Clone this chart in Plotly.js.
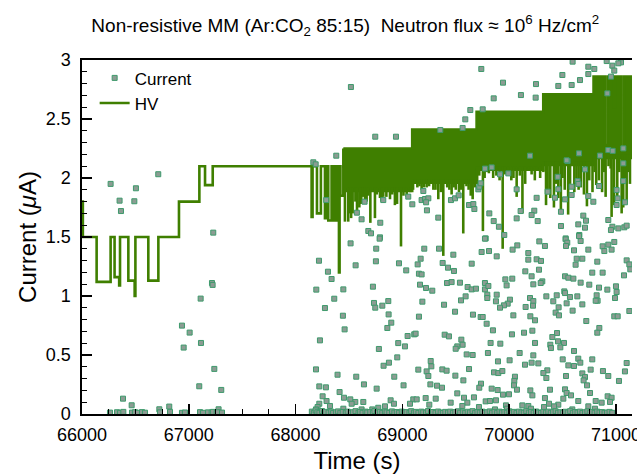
<!DOCTYPE html>
<html><head><meta charset="utf-8">
<script src="https://cdn.plot.ly/plotly-3.0.1.min.js"></script>
<style>html,body{margin:0;padding:0;background:#fff;}#chart{width:637px;height:476px;}</style>
</head><body><div id="chart"></div>
<script>
// ---- Current (uA) readings: [time (s), current (uA)] grouped by region ----
const currentEarly = [[66268,1.95],[66352,1.808],[66365,1.72],[66505,1.913],[66490,1.803],[66714,2.032],[67229,1.537],[67217,1.11],[67223,1.094],[67111,0.978],[66936,0.749],[67008,0.690],[67114,0.602],[66952,0.563],[67239,0.382],[67098,0.235],[67304,0.204],[66384,0.130],[66465,0.074],[66724,0.040],[66817,0.063],[67279,0.040],
[66262,0.012],[66328,0.015],[66356,0.010],[66387,0.018],[66468,0.012],[66496,0.015],[66524,0.010],[66562,0.016],[66590,0.011],[66730,0.014],[66824,0.018],[66936,0.010],[66964,0.013],[67105,0.016],[67133,0.010],[67180,0.014],[67214,0.012],[67227,0.018],[67261,0.010],[67273,0.015],[67311,0.012]];
const currentHighA = [[68518,2.771],[68746,2.350],[68940,2.350],[68381,2.189],[68166,2.133],[68188,2.116],[68287,1.813],[68646,1.799],[68821,1.813],[69055,1.842],[69093,1.777],[68574,1.706],[68618,1.650],[68793,1.621],[68681,1.551],[68706,1.531],[68790,1.497]];
const currentHighB = [[69739,2.924],[69942,2.808],[69855,2.675],[70110,2.703],[69636,2.576],[69752,2.582],[69589,2.497],[69564,2.424],[69355,2.407],[69196,1.890],[69180,1.813],[69212,1.822],[69243,1.828],[69222,1.794],[69230,1.726],[69336,1.664],[69455,1.813],[69493,1.828],[69527,1.853],[69624,1.771],[69664,1.779],[69674,1.737],[69711,1.904],[69720,1.926],[69733,1.955],[69814,1.700],[69855,1.635],[69904,1.587],[69780,1.488],[69954,1.517],[70070,1.904],[70107,1.720],[70070,1.658],[69992,2.039],[69914,2.031],[69774,2.08],[69836,2.09]];
const currentHighC = [[70594,2.986],[70741,2.943],[70797,2.924],[70913,2.991],[70966,2.952],[71047,2.980],[71022,2.972],[70741,2.881],[70984,2.910],[70953,2.859],[70498,2.873],[70251,2.796],[70460,2.780],[70585,2.788],[70663,2.830],[70248,2.681],[70919,2.717],[70195,2.189],[70547,2.144],[70654,2.209],[70710,2.073],[70928,2.237],[71069,2.124],[71069,2.251],[70257,1.832],[70460,1.905],[70360,1.884],[70429,1.833],[70585,1.926],[70641,1.974],[70585,1.856],[70741,1.847],[70841,1.932],[70788,1.799],[71006,1.898],[71069,1.974],[71016,1.827],[71084,1.794],[71006,1.771],[70523,1.819],[70235,1.723],[70210,1.686],[70267,1.635],[70485,1.714],[70485,1.593],[70694,1.681],[70719,1.638],[70647,1.607],[70710,1.579],[70657,1.517],[70529,1.488],[70928,1.644],[70966,1.587],[70953,1.559],[71022,1.573],[71078,1.582],[71100,1.596],[70648,1.95],[70454,2.01],[70538,2.15],[70850,2.19],[70969,2.23]];
const currentLowA = [[68515,1.446],[68787,1.486],[68755,1.401],[68219,1.299],[68562,1.260],[68752,1.294],[68968,1.277],[68303,1.206],[68337,1.144],[69036,1.217],[68194,1.054],[68447,1.056],[68724,1.079],[68362,0.977],[68734,0.941],[68746,0.901],[68812,0.918],[68868,0.957],[68275,0.898],[68443,0.833],[68871,0.844],[68896,0.774],[68859,0.729],[68459,0.717],[68228,0.624],[69049,0.661],[69111,0.675],[68961,0.601],[69024,0.573],[68780,0.551],[68952,0.480],[68874,0.435],[68824,0.409],[68191,0.378],[68393,0.333],[68568,0.316],[68924,0.316],[68640,0.251],[68759,0.215],[69011,0.243],[68222,0.234],[68284,0.226],[68412,0.186],[68253,0.150],[68453,0.138],[68290,0.110],[68512,0.124],[68559,0.102],[68634,0.102],[68322,0.068],[68525,0.087],[68222,0.087],[68890,0.116],[68921,0.087],[69102,0.124],[69071,0.087],[68837,0.065],[68774,0.053],[68718,0.039],[68618,0.039],[68447,0.045],[68206,0.059],[68191,0.039]];
const currentLowB = [[69205,1.401],[69343,1.401],[69773,1.486],[70076,1.429],[70032,1.393],[69811,1.381],[69742,1.373],[69883,1.336],[69477,1.350],[69171,1.316],[69143,1.268],[69377,1.280],[69427,1.240],[69483,1.212],[69649,1.274],[69155,1.189],[69180,1.183],[70151,1.209],[69165,1.096],[69221,1.068],[69280,1.045],[69418,1.110],[69461,1.118],[69539,1.113],[69611,1.076],[69649,1.056],[69689,1.062],[69773,1.110],[69773,1.056],[69805,1.085],[69795,1.011],[69795,0.983],[69883,1.011],[69876,0.955],[69964,1.141],[70029,1.147],[69976,1.090],[70007,0.969],[69986,0.935],[69951,0.921],[69914,0.901],[69592,0.997],[69549,0.963],[69187,0.952],[69390,0.926],[69493,0.867],[70154,0.907],[69155,0.825],[69661,0.842],[69733,0.822],[69752,0.822],[69789,0.765],[70039,0.836],[69848,0.709],[70026,0.675],[70139,0.689],[69124,0.681],[69396,0.672],[69436,0.658],[69552,0.630],[69564,0.587],[69514,0.573],[69499,0.553],[69826,0.602],[69917,0.596],[69602,0.505],[69658,0.500],[69801,0.517],[70098,0.517],[69265,0.449],[69271,0.404],[69895,0.446],[70004,0.455],[70148,0.418],[69149,0.376],[69227,0.361],[69374,0.378],[69414,0.367],[69624,0.381],[69858,0.353],[69898,0.347],[69936,0.364],[69496,0.325],[69243,0.322],[69571,0.285],[70054,0.316],[70048,0.280],[69262,0.251],[69324,0.240],[69371,0.223],[69736,0.257],[69720,0.223],[69836,0.215],[69892,0.203],[70045,0.243],[70073,0.206],[69514,0.175],[69942,0.164],[69998,0.167],[69218,0.135],[69312,0.130],[69577,0.138],[69670,0.141],[69452,0.096],[69608,0.096],[69780,0.107],[69820,0.110],[69876,0.116],[69252,0.079],[69134,0.124],[69970,0.073],[70123,0.073],[69561,0.068],[69717,0.059],[69867,0.039],[69980,0.045]];
const currentLowC = [[70282,1.463],[70335,1.424],[70529,1.480],[70544,1.452],[70532,1.424],[70669,1.466],[70654,1.508],[70607,1.387],[70741,1.393],[70875,1.421],[70928,1.435],[70984,1.458],[70891,1.381],[70959,1.393],[70179,1.364],[70179,1.308],[70257,1.311],[70298,1.297],[70632,1.316],[70685,1.316],[70622,1.265],[70825,1.291],[71100,1.302],[71125,1.268],[71134,1.226],[70279,1.223],[70778,1.198],[70875,1.198],[71075,1.175],[70210,1.167],[70310,1.124],[70295,1.110],[70226,1.099],[70523,1.167],[70554,1.155],[70601,1.147],[70669,1.113],[70750,1.096],[70841,1.071],[70919,1.054],[71000,1.082],[71006,1.034],[70991,0.983],[70516,1.039],[70523,1.025],[70348,0.997],[70445,1.006],[70569,0.991],[70638,0.997],[70819,1.006],[70828,0.960],[70810,0.960],[70195,0.983],[70226,0.957],[70413,0.955],[70223,0.918],[70538,0.938],[70685,0.929],[70463,0.904],[70435,0.859],[70466,0.836],[70594,0.876],[70198,0.828],[70242,0.794],[70722,0.788],[70984,0.828],[71016,0.828],[71125,0.873],[70844,0.729],[70825,0.689],[70217,0.706],[70448,0.686],[70404,0.652],[70457,0.616],[70513,0.602],[70242,0.602],[70385,0.587],[70479,0.565],[70391,0.559],[70607,0.534],[70226,0.497],[70501,0.463],[70647,0.469],[70778,0.463],[70210,0.435],[70273,0.429],[70666,0.435],[70554,0.412],[70607,0.407],[71100,0.432],[70763,0.376],[70878,0.364],[71084,0.361],[70357,0.370],[70320,0.347],[70348,0.305],[70532,0.322],[70685,0.344],[70710,0.313],[70697,0.285],[70928,0.322],[71028,0.280],[70729,0.243],[70198,0.200],[70382,0.206],[70523,0.209],[70538,0.178],[70579,0.158],[70757,0.178],[70217,0.158],[70335,0.135],[70373,0.087],[70507,0.130],[70647,0.110],[70810,0.110],[70866,0.096],[70922,0.150],[70959,0.138],[70944,0.102],[70460,0.079],[70420,0.065],[70326,0.059],[70179,0.068],[70204,0.045],[70591,0.039],[70803,0.045],[70741,0.065]];
const currentBaseline = [[68152,0.02],[68171,0.01],[68188,0.03],[68204,0.015],[68223,0.01],[68247,0.025],[68266,0.01],[68281,0.018],[68309,0.012],[68333,0.02],[68351,0.008],[68378,0.015],[68397,0.022],[68419,0.01],[68441,0.017],[68470,0.012],[68488,0.02],[68516,0.009],[68537,0.015],[68561,0.024],[68589,0.011],[68604,0.018],[68627,0.01],[68655,0.02],[68671,0.013],[68699,0.016],[68724,0.01],[68739,0.025],[68763,0.012],[68790,0.018],[68812,0.01],[68836,0.02],[68852,0.014],[68877,0.009],[68903,0.022],[68925,0.012],[68948,0.017],[68969,0.01],[68994,0.02],[69013,0.013],[69039,0.016],[69066,0.01],[69082,0.024],[69109,0.012],[69126,0.018],[69150,0.009],[69177,0.02],[69195,0.014],[69221,0.011],[69240,0.025],[69268,0.012],[69287,0.017],[69310,0.01],[69334,0.021],[69358,0.013],[69379,0.009],[69402,0.018],[69427,0.012],[69448,0.02],[69473,0.01],[69495,0.016],[69520,0.023],[69541,0.011],[69566,0.015],[69588,0.01],[69612,0.019],[69633,0.013],[69657,0.024],[69681,0.01],[69703,0.017],[69725,0.012],[69749,0.02],[69772,0.009],[69794,0.015],[69818,0.022],[69840,0.011],[69863,0.018],[69887,0.01],[69909,0.02],[69931,0.013],[69955,0.016],[69978,0.01],[70001,0.023],[70024,0.012],[70046,0.018],[70069,0.009],[70092,0.02],[70115,0.014],[70137,0.011],[70160,0.024],[70184,0.012],[70205,0.017],[70229,0.01],[70252,0.021],[70274,0.013],[70297,0.009],[70320,0.018],[70344,0.012],[70366,0.02],[70389,0.01],[70411,0.016],[70435,0.023],[70457,0.011],[70480,0.015],[70503,0.01],[70527,0.019],[70549,0.013],[70571,0.024],[70596,0.01],[70618,0.017],[70640,0.012],[70663,0.02],[70686,0.009],[70710,0.015],[70732,0.022],[70755,0.011],[70777,0.018],[70800,0.01],[70824,0.02],[70846,0.013],[70869,0.016],[70893,0.01],[70916,0.012],[70940,0.018],[70965,0.01]];

// ---- HV (drawn on the same visual scale, right-hand axis ticks) ----
const hvStepTime  = [66000,66008,66137,66268,66305,66348,66356,66434,66493,66500,66621,66715,66908,67099,67152,67224,68150,68159,68200,68237,68275,68294,68306,68337,68345,68362,68370,68384,68400,68406,68412,68420,68447];
const hvStepValue = [1.80, 1.50, 1.12, 1.50, 1.16, 1.09, 1.50, 1.13, 1.00, 1.50, 1.13, 1.50, 1.80, 2.10, 1.94, 2.10, 1.67, 2.10, 1.70, 2.10, 1.66, 2.10, 1.64, 2.10, 1.64, 2.10, 1.64, 2.10, 1.75, 1.20, 2.10, 1.85, 2.25];
// fast-oscillating part: envelope per setting
const hvBandEdge   = [68447, 69092, 69695, 70319, 70790, 71150];
const hvBandTop    = [2.25, 2.41, 2.56, 2.71, 2.86];
const hvBandBottom = [1.89, 1.96, 2.07, 2.11, 2.17];
const hvGaps = [[70897,70922,2.28],[70980,70996,2.60],[71053,71078,2.25]];
const hvSpikes = [[68462,1.63],[68493,1.63],[68509,1.70],[68520,1.66],[68534,1.70],[68560,1.80],[68575,1.72],[68597,1.75],[68615,1.78],[68630,1.84],[68650,1.82],[68665,1.80],[68680,1.85],[68700,1.62],[68743,1.66],[68760,1.86],[68790,1.83],[68805,1.80],[68821,1.84],[68850,1.84],[68884,1.82],[68905,1.86],[68930,1.77],[68950,1.78],[68987,1.42],[69010,1.85],[69040,1.84],[69075,1.88],[69100,1.90],[69118,1.95],[69140,1.92],[69160,1.93],[69180,1.90],[69200,1.92],[69227,1.92],[69250,1.93],[69290,1.90],[69310,1.90],[69336,1.82],[69360,1.88],[69383,1.34],[69420,1.92],[69440,1.90],[69461,1.86],[69480,1.92],[69500,1.90],[69530,1.88],[69550,1.90],[69570,1.53],[69600,1.93],[69620,1.90],[69640,1.85],[69658,1.82],[69680,1.92],[69700,1.95],[69720,2.02],[69754,1.55],[69770,2.00],[69789,2.05],[69810,2.04],[69850,2.00],[69880,2.02],[69910,1.98],[69939,1.40],[69960,2.03],[69990,2.05],[70020,1.98],[70040,2.00],[70070,1.84],[70100,2.02],[70124,1.70],[70150,1.95],[70180,2.07],[70210,2.03],[70240,1.98],[70257,2.06],[70290,2.00],[70320,2.05],[70345,1.77],[70360,1.90],[70385,1.83],[70419,1.75],[70440,1.95],[70460,1.83],[70484,1.70],[70500,2.00],[70520,1.90],[70552,1.69],[70570,1.95],[70610,1.88],[70630,2.00],[70650,1.90],[70670,1.92],[70700,1.86],[70728,1.76],[70750,1.98],[70780,1.88],[70800,2.05],[70815,1.94],[70840,1.98],[70870,1.88],[70890,2.05],[70903,1.84],[70930,2.10],[70950,2.08],[70959,1.67],[70982,1.77],[71012,1.81],[71030,2.05],[71053,1.70],[71068,1.75],[71085,2.00],[71100,1.80],[71115,2.05],[71131,1.95]];

const GREEN = '#3f7f00';
const FONT = 'Liberation Sans, Arial, Helvetica, sans-serif';

const allCurrent = [].concat(currentEarly, currentHighA, currentHighB, currentHighC, currentLowA, currentLowB, currentLowC, currentBaseline);

function bandIndex(t){ for(let i=0;i<hvBandTop.length;i++){ if(t>=hvBandEdge[i] && t<hvBandEdge[i+1]) return i; } return hvBandTop.length-1; }
let upper = [];
for(let i=0;i<hvBandTop.length;i++) upper.push([hvBandEdge[i], hvBandTop[i]]);
hvGaps.forEach(g => { upper.push([g[0], g[2]]); upper.push([g[1], hvBandTop[bandIndex(g[1])]]); });
upper.sort((a,b)=>a[0]-b[0]);
upper.push([hvBandEdge[hvBandEdge.length-1], hvBandTop[hvBandTop.length-1]]);
let lower = [];
for(let i=0;i<hvBandBottom.length;i++) lower.push([hvBandEdge[i], hvBandBottom[i]]);
lower.push([hvBandEdge[hvBandEdge.length-1], hvBandBottom[hvBandBottom.length-1]]);

let spX=[], spY=[];
hvSpikes.forEach(s => { spX.push(s[0], s[0], null); spY.push(hvBandBottom[bandIndex(s[0])]+0.03, s[1], null); });

const traces = [
  {x: hvStepTime, y: hvStepValue, type:'scatter', mode:'lines', name:'HV', line:{color:GREEN, width:2.6, shape:'hv'}, legendrank:2},
  {x: upper.map(p=>p[0]), y: upper.map(p=>p[1]), type:'scatter', mode:'lines', line:{color:GREEN, width:2.6, shape:'hv'}, showlegend:false, hoverinfo:'skip'},
  {x: lower.map(p=>p[0]), y: lower.map(p=>p[1]), type:'scatter', mode:'lines', line:{color:GREEN, width:2.6, shape:'hv'}, fill:'tonexty', fillcolor:GREEN, showlegend:false, hoverinfo:'skip'},
  {x: spX, y: spY, type:'scatter', mode:'lines', line:{color:GREEN, width:2.6}, showlegend:false, hoverinfo:'skip', connectgaps:false},
  {x: allCurrent.map(p=>p[0]), y: allCurrent.map(p=>p[1]), type:'scatter', mode:'markers', name:'Current',
   marker:{symbol:'square', size:5, color:'#8c9c93', line:{color:'#3e9a6c', width:1}}, legendrank:1}
];

const axisCommon = {showline:true, linecolor:'#000', linewidth:1.6, ticks:'inside', tickcolor:'#000', tickwidth:1.4, ticklen:10, showgrid:false, zeroline:false,
  tickfont:{family:FONT, size:18, color:'#000'}, ticklabeloverflow:'allow'};

const layout = {
  width:637, height:476,
  margin:{l:82, r:5, t:60, b:62, pad:0},
  paper_bgcolor:'#fff', plot_bgcolor:'#fff',
  font:{family:FONT, color:'#000'},
  title:{text:'Non-resistive MM (Ar:CO<sub>2</sub> 85:15)\u00a0\u00a0Neutron flux \u2248 10<sup>6</sup> Hz/cm<sup>2</sup>',
    font:{family:FONT, size:19, color:'#000'}, x:0.542, xanchor:'center', y:0.947, yanchor:'middle'},
  xaxis: Object.assign({}, axisCommon, {range:[66000,71150], tick0:0, dtick:1000, tickformat:'d', mirror:true,
    minor:{dtick:250, ticks:'inside', ticklen:5, tickcolor:'#000', tickwidth:1}, ticklabelstandoff:4,
    title:{text:'Time (s)', font:{family:FONT, size:24, color:'#000'}, standoff:8}}),
  yaxis: Object.assign({}, axisCommon, {range:[0,3], tick0:0, dtick:0.5,
    minor:{dtick:0.1, ticks:'inside', ticklen:5, tickcolor:'#000', tickwidth:1}, ticklabelstandoff:6,
    title:{text:'Current (<i>\u03bc</i>A)', font:{family:FONT, size:24, color:'#000'}, standoff:2}}),
  yaxis2: {overlaying:'y', side:'right', anchor:'x', range:[0,3], tick0:0, dtick:0.75, showticklabels:false, showline:true, linecolor:'#000', linewidth:1.6,
    ticks:'inside', ticklen:10, tickwidth:1.4, tickcolor:'#000', showgrid:false, zeroline:false,
    minor:{dtick:0.15, ticks:'inside', ticklen:5, tickcolor:'#000', tickwidth:1}},
  showlegend:true,
  legend:{x:0.023, y:0.999, xanchor:'left', yanchor:'top', traceorder:'normal', bgcolor:'rgba(0,0,0,0)', font:{family:FONT, size:17, color:'#000'}, tracegroupgap:0, itemwidth:30}
};

Plotly.newPlot('chart', traces, layout, {displayModeBar:false, staticPlot:true});
</script></body></html>
